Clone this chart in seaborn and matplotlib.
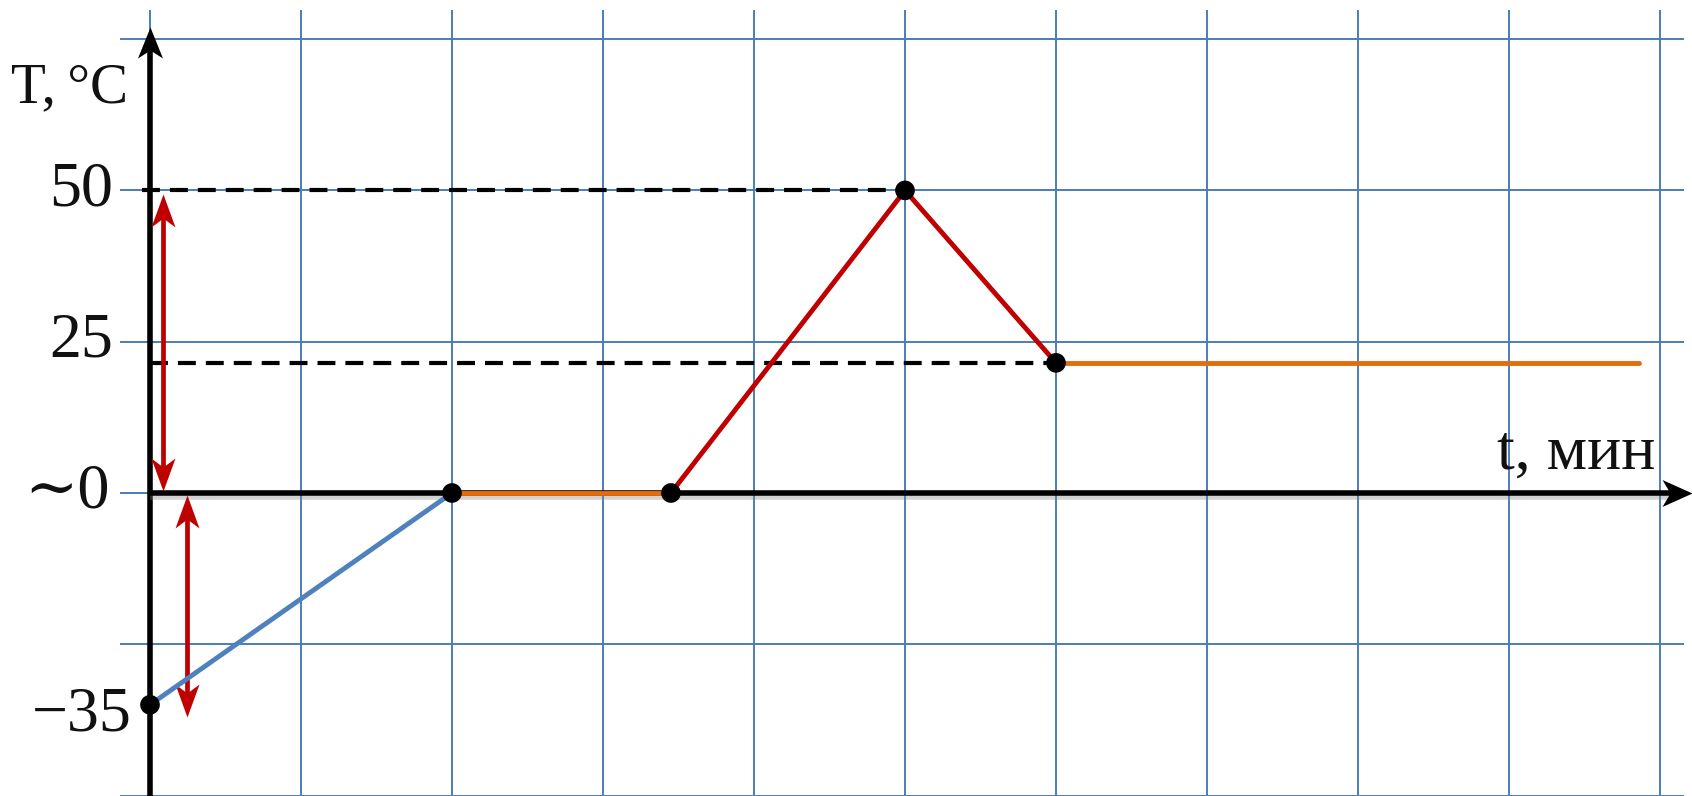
import numpy as np
import pandas as pd
import matplotlib
matplotlib.use('Agg')
import matplotlib.pyplot as plt
import matplotlib.patheffects as pe
from matplotlib.path import Path
from matplotlib.markers import MarkerStyle
from matplotlib.transforms import Affine2D
import seaborn as sns

# ── data ──────────────────────────────────────────────────
t_points = [0, 2, 3.45, 5, 6]          # minutes (grid cells)
T_points = [-35, 0, 0, 50, 21.5]       # °C
t_end = 9.86

seg_t = [[0, 2], [2, 3.45], [3.45, 5, 6], [6, t_end]]
seg_T = [[-35, 0], [0, 0], [0, 50, 21.5], [21.5, 21.5]]
seg_colors = ['#4F81BD', '#E46C0A', '#C00000', '#E46C0A']

T_ticks = [50, 25, 0, -35]
T_tick_labels = ['50', '25', '\u223c0', '\u221235']

x_grid = list(range(0, 11))
y_grid = [-50, -25, 0, 25, 50, 75]

# ── style ────────────────────────────────────────────────
sns.set_theme(style='white')
plt.rcParams['font.family'] = ['Liberation Serif', 'DejaVu Serif']

W, H, DPI = 1692, 796, 100
PX = 72 / DPI          # points per pixel
fig = plt.figure(figsize=(W / DPI, H / DPI), dpi=DPI)
ax = fig.add_axes([120 / W, 0, (1684 - 120) / W, 1 - 10 / H])
ax.set_xlim(-0.1987, 10.159)
ax.set_ylim(-50.07, 79.81)
dx_px = 1 / 151        # data units per pixel along t
dy_px = 25 / 151.3     # data units per pixel along T

ax.set_xticks(x_grid)
ax.set_yticks(y_grid)
ax.grid(True, color='#4A7EBB', lw=1.4)
ax.tick_params(length=0, labelbottom=False, labelleft=False)
for s in ax.spines.values():
    s.set_visible(False)


def stealth(length, width, notch, angle):
    # arrow head with its tip at the origin, pointing along +x then rotated
    verts = [(0, 0), (-length, width / 2), (-notch, 0), (-length, -width / 2), (0, 0)]
    codes = [Path.MOVETO, Path.LINETO, Path.LINETO, Path.LINETO, Path.CLOSEPOLY]
    m = MarkerStyle(Path(verts, codes), transform=Affine2D().rotate_deg(angle))
    return m, 2 * length * PX


def head(x, y, angle, color, length, width, notch, z):
    m, ms = stealth(length, width, notch, angle)
    ax.plot([x], [y], marker=m, ms=ms, color=color, mew=0, ls='none',
            zorder=z, clip_on=False)


# dashed helper lines
dash_kw = dict(color='black', lw=3, ls=(0, (4.3, 2.4)), zorder=3)
ax.plot([-0.05, t_points[3]], [T_points[3]] * 2, **dash_kw)
ax.plot([0, t_points[4]], [T_points[4]] * 2, **dash_kw)

# axes with arrows
shadow = [pe.SimpleLineShadow(offset=(0, -3), shadow_color='0.5', alpha=0.35), pe.Normal()]
y_tip, x_tip = 77.0, 10.21
ax.plot([0, 0], [-52, y_tip - 20 * dy_px], color='black', lw=4, zorder=4,
        solid_capstyle='butt', clip_on=False)
head(0, y_tip, 90, 'black', 31, 25, 23, 4)
ax.plot([0, x_tip - 20 * dx_px], [0, 0], color='black', lw=4, zorder=4,
        solid_capstyle='butt', clip_on=False, path_effects=shadow)
head(x_tip, 0, 0, 'black', 30, 27, 22, 4)

# red double arrows
for x0, ya, yb in [(0.086, 49.4, 0.3), (0.245, -0.3, -37)]:
    ax.plot([x0, x0], [ya - 15 * dy_px, yb + 15 * dy_px], color='#C00000',
            lw=3.4, zorder=5, solid_capstyle='butt')
    head(x0, ya, 90, '#C00000', 33, 24, 24, 5)
    head(x0, yb, -90, '#C00000', 33, 24, 24, 5)

# process curve
rows = []
for i, (ts, Ts) in enumerate(zip(seg_t, seg_T)):
    for t, T in zip(ts, Ts):
        rows.append({'t': t, 'T': T, 'seg': i})
df = pd.DataFrame(rows)
sns.lineplot(data=df, x='t', y='T', hue='seg', palette=seg_colors,
             estimator=None, sort=False, legend=False, lw=3.5, ax=ax, zorder=6)
sns.scatterplot(x=t_points, y=T_points, color='black', s=200,
                edgecolor='none', ax=ax, zorder=7, clip_on=False)
ax.set_xlabel('')
ax.set_ylabel('')

# labels
txt_kw = dict(fontsize=46, color='#111111')
offsets = [-37, -37, -40, -18]
for v, lab, dx in zip(T_ticks, T_tick_labels, offsets):
    yv = v if v != -35 else -36.8
    ax.annotate(lab, xy=(0, yv), xytext=(dx, 0), textcoords='offset pixels',
                ha='right', va='center', annotation_clip=False, **txt_kw)
ax.text(-0.146, 66.9, 'T,\u2009°C', ha='right', va='center',
        fontsize=41, color='#111111')
ax.text(9.97, 4.1, 't, мин', ha='right', va='baseline', **txt_kw)

fig.savefig('out.png', dpi=DPI)
